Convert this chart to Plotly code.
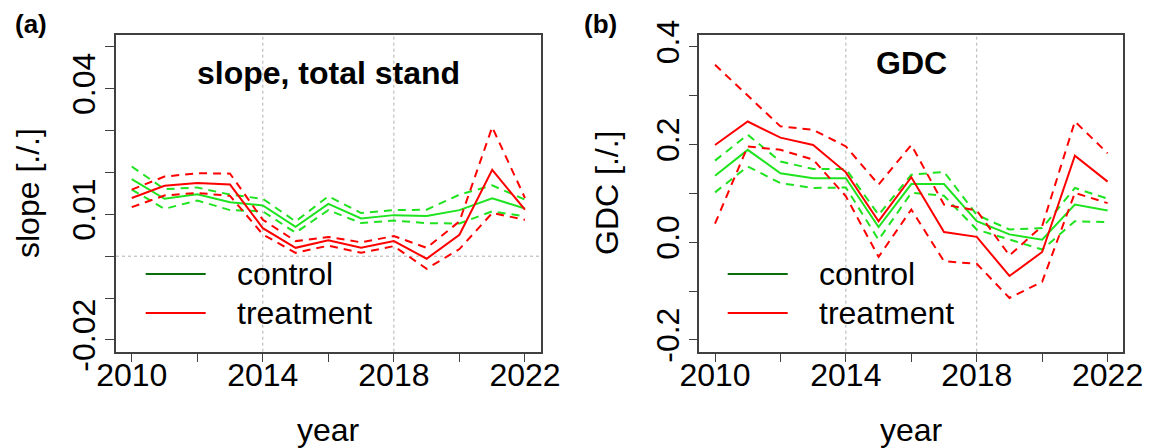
import plotly.graph_objects as go

years = list(range(2010, 2023))

# Panel (a): slope, total stand
slope_ctrl = [0.0184, 0.0137, 0.0148, 0.0129, 0.0121, 0.0070, 0.0125, 0.0090, 0.0098, 0.0096, 0.0110, 0.0138, 0.0114]
slope_ctrl_hi = [0.0214, 0.0160, 0.0164, 0.0147, 0.0137, 0.0083, 0.0143, 0.0103, 0.0110, 0.0111, 0.0147, 0.0169, 0.0135]
slope_ctrl_lo = [0.0159, 0.0113, 0.0133, 0.0110, 0.0107, 0.0056, 0.0110, 0.0079, 0.0085, 0.0079, 0.0078, 0.0107, 0.0095]
slope_trt = [0.0139, 0.0168, 0.0175, 0.0171, 0.0067, 0.0020, 0.0038, 0.0020, 0.0036, -0.0006, 0.0051, 0.0206, 0.0111]
slope_trt_hi = [0.0159, 0.0190, 0.0198, 0.0197, 0.0087, 0.0036, 0.0046, 0.0033, 0.0048, 0.0020, 0.0083, 0.0308, 0.0139]
slope_trt_lo = [0.0117, 0.0145, 0.0151, 0.0144, 0.0052, 0.0008, 0.0025, 0.0008, 0.0024, -0.0030, 0.0017, 0.0103, 0.0087]

# Panel (b): GDC
gdc_ctrl = [0.136, 0.189, 0.141, 0.131, 0.131, 0.031, 0.119, 0.119, 0.043, 0.016, 0.005, 0.077, 0.065]
gdc_ctrl_hi = [0.167, 0.220, 0.165, 0.150, 0.150, 0.056, 0.138, 0.144, 0.056, 0.026, 0.029, 0.111, 0.089]
gdc_ctrl_lo = [0.102, 0.155, 0.121, 0.111, 0.112, 0.005, 0.101, 0.095, 0.026, 0.005, -0.015, 0.043, 0.041]
gdc_trt = [0.199, 0.247, 0.214, 0.199, 0.143, 0.043, 0.133, 0.021, 0.011, -0.069, -0.020, 0.177, 0.124]
gdc_trt_hi = [0.363, 0.301, 0.237, 0.230, 0.196, 0.118, 0.199, 0.077, 0.065, -0.027, 0.033, 0.247, 0.182]
gdc_trt_lo = [0.038, 0.196, 0.189, 0.169, 0.094, -0.030, 0.067, -0.039, -0.044, -0.114, -0.081, 0.101, 0.080]

x_tickvals = [2010, 2012, 2014, 2016, 2018, 2020, 2022]
x_ticktext = ["2010", "", "2014", "", "2018", "", "2022"]
slope_tickvals = [-0.02, -0.01, 0.0, 0.01, 0.02, 0.03, 0.04, 0.05]
slope_ticktext = ["-0.02", "", "", "0.01", "", "", "0.04", ""]
gdc_tickvals = [-0.2, -0.1, 0.0, 0.1, 0.2, 0.3, 0.4]
gdc_ticktext = ["-0.2", "", "0.0", "", "0.2", "", "0.4"]
vlines = [2014, 2018]
legend_labels = ["control", "treatment"]

GREEN = "#1EE31E"
RED = "#FF0000"
DARKGREEN = "#0A6E0A"
FONT = "Liberation Sans, Arial, sans-serif"
AX = "#404040"
DASH = "8px,6px"

fig = go.Figure()

def add_panel(xa, ya, ctrl, ctrl_hi, ctrl_lo, trt, trt_hi, trt_lo):
    for ys, col, dash in [(ctrl, GREEN, "solid"), (ctrl_hi, GREEN, DASH), (ctrl_lo, GREEN, DASH),
                          (trt, RED, "solid"), (trt_hi, RED, DASH), (trt_lo, RED, DASH)]:
        fig.add_trace(go.Scatter(x=years, y=ys, mode="lines", xaxis=xa, yaxis=ya,
                                 line=dict(color=col, width=2, dash=dash),
                                 showlegend=False, hoverinfo="skip"))

add_panel("x", "y", slope_ctrl, slope_ctrl_hi, slope_ctrl_lo, slope_trt, slope_trt_hi, slope_trt_lo)
add_panel("x2", "y2", gdc_ctrl, gdc_ctrl_hi, gdc_ctrl_lo, gdc_trt, gdc_trt_hi, gdc_trt_lo)

W, H = 1152, 448
def px_x(p):
    return p / W
def px_y(p):
    return 1 - p / H

xdom1 = [px_x(116), px_x(540.7)]
xdom2 = [px_x(699.3), px_x(1123.3)]
ydom = [px_y(351.7), px_y(35)]

xcommon = dict(range=[2009.52, 2022.48], tickmode="array", tickvals=x_tickvals, ticktext=x_ticktext,
               ticks="outside", ticklen=9, tickcolor=AX, tickwidth=1.3, automargin=False,
               showline=True, mirror=True, linecolor=AX, linewidth=1.5,
               showgrid=False, zeroline=False, ticklabelstandoff=-15,
               tickfont=dict(family=FONT, size=32, color="black"))
ycommon = dict(tickmode="array", ticks="outside", ticklen=9, tickcolor=AX, tickwidth=1.3, automargin=False,
               showline=True, mirror=True, linecolor=AX, linewidth=1.5,
               showgrid=False, zeroline=False, tickangle=-90, ticklabelstandoff=-3,
               tickfont=dict(family=FONT, size=32, color="black"))

fig.update_layout(
    width=W, height=H, margin=dict(l=0, r=0, t=0, b=0, autoexpand=False),
    paper_bgcolor="white", plot_bgcolor="white", showlegend=False,
    xaxis=dict(domain=xdom1, anchor="y", **xcommon),
    yaxis=dict(domain=ydom, anchor="x", range=[-0.0228, 0.0528],
               tickvals=slope_tickvals, ticktext=slope_ticktext, **ycommon),
    xaxis2=dict(domain=xdom2, anchor="y2", **xcommon),
    yaxis2=dict(domain=ydom, anchor="x2", range=[-0.224, 0.424],
                tickvals=gdc_tickvals, ticktext=gdc_ticktext, **ycommon),
)

shapes = []
for xr, yr in [("x", "y"), ("x2", "y2")]:
    for v in vlines:
        shapes.append(dict(type="line", xref=xr, yref=yr + " domain", x0=v, x1=v, y0=0, y1=1,
                           line=dict(color="#B0B0B0", width=1, dash="dot"), layer="below"))
shapes.append(dict(type="line", xref="x domain", yref="y", x0=0, x1=1, y0=0, y1=0,
                   line=dict(color="#B0B0B0", width=1, dash="dot"), layer="below"))

annotations = []
def txt(x, y, s, size=32, bold=False, angle=0, xanchor="center", yanchor="middle"):
    annotations.append(dict(x=x, y=y, xref="paper", yref="paper", text=("<b>%s</b>" % s) if bold else s,
                            showarrow=False, textangle=angle, xanchor=xanchor, yanchor=yanchor,
                            font=dict(family=FONT, size=size, color="black")))

# panel labels
txt(px_x(31), px_y(24), "(a)", size=26, bold=True)
txt(px_x(600), px_y(24), "(b)", size=26, bold=True)
# titles
txt(px_x(328), px_y(73), "slope, total stand", size=32, bold=True)
txt(px_x(911), px_y(63), "GDC", size=32, bold=True)
# axis titles
txt(px_x(28), px_y(193), "slope [./.]", angle=-90)
txt(px_x(607), px_y(193), "GDC [./.]", angle=-90)
txt(px_x(328), px_y(430), "year")
txt(px_x(911), px_y(430), "year")

# legends
legend_cols = [DARKGREEN, RED]
for (lx0, lx1, tx), ys in [((145.7, 205.7, 235), (274, 313)), ((727.7, 787.7, 817.3), (274, 313))]:
    for lab, col, yy in zip(legend_labels, legend_cols, ys):
        shapes.append(dict(type="line", xref="paper", yref="paper", x0=px_x(lx0), x1=px_x(lx1),
                           y0=px_y(yy), y1=px_y(yy), line=dict(color=col, width=2)))
        txt(px_x(tx), px_y(yy), lab, xanchor="left")

fig.update_layout(shapes=shapes, annotations=annotations)
fig.write_html("out.html", config={"displayModeBar": False},
               post_script="document.body.style.margin='0px';")
